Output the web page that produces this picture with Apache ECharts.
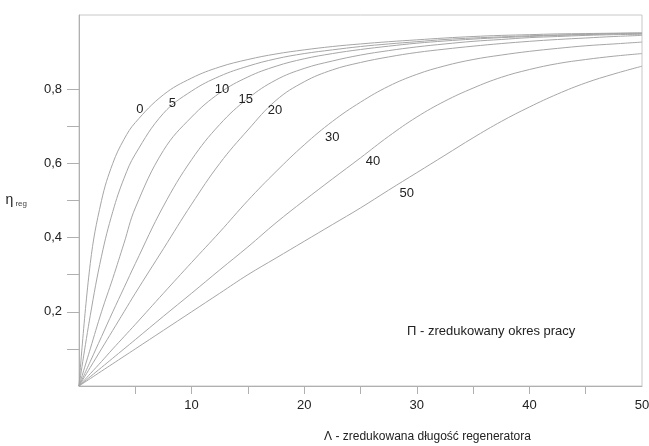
<!DOCTYPE html>
<html>
<head>
<meta charset="utf-8">
<script src="https://cdn.jsdelivr.net/npm/echarts@6/dist/echarts.min.js"></script>
<style>
html, body { margin: 0; padding: 0; background: #fff; }
#chart { width: 649px; height: 446px; }
</style>
</head>
<body>
<div id="chart"></div>
<script>
// zredukowana długość regeneratora (oś x)
const lambda = [0, 1, 2, 3, 4, 5, 7.5, 10, 12.5, 15, 17.5, 20, 22.5, 25, 27.5, 30, 32.5, 35, 37.5, 40, 42.5, 45, 47.5, 50];

// zredukowany okres pracy - jedna krzywa na wartość
const piValues = [0, 5, 10, 15, 20, 30, 40, 50];

const eta0 = [0, 0.33, 0.50, 0.60, 0.665, 0.71, 0.785, 0.83, 0.86, 0.88, 0.895, 0.906, 0.915, 0.922, 0.928, 0.933, 0.938, 0.942, 0.945, 0.947, 0.949, 0.95, 0.951, 0.952];
const eta5 = [0, 0.19, 0.35, 0.47, 0.56, 0.625, 0.735, 0.795, 0.835, 0.862, 0.882, 0.896, 0.906, 0.915, 0.922, 0.928, 0.934, 0.938, 0.941, 0.944, 0.946, 0.948, 0.95, 0.951];
const eta10 = [0, 0.10, 0.20, 0.29, 0.385, 0.48, 0.635, 0.725, 0.79, 0.833, 0.862, 0.882, 0.896, 0.907, 0.916, 0.924, 0.93, 0.935, 0.939, 0.942, 0.945, 0.947, 0.949, 0.95];
const eta15 = [0, 0.066, 0.133, 0.2, 0.265, 0.33, 0.485, 0.61, 0.705, 0.775, 0.825, 0.856, 0.876, 0.892, 0.904, 0.914, 0.922, 0.929, 0.934, 0.939, 0.942, 0.945, 0.947, 0.948];
const eta20 = [0, 0.05, 0.10, 0.15, 0.20, 0.25, 0.37, 0.49, 0.60, 0.69, 0.77, 0.82, 0.852, 0.872, 0.887, 0.899, 0.908, 0.916, 0.923, 0.929, 0.934, 0.938, 0.942, 0.945];
const eta30 = [0, 0.033, 0.066, 0.10, 0.133, 0.166, 0.25, 0.333, 0.415, 0.50, 0.578, 0.65, 0.713, 0.765, 0.808, 0.84, 0.863, 0.88, 0.892, 0.902, 0.91, 0.917, 0.922, 0.927];
const eta40 = [0, 0.025, 0.05, 0.075, 0.10, 0.125, 0.188, 0.25, 0.313, 0.375, 0.44, 0.50, 0.558, 0.615, 0.673, 0.725, 0.768, 0.803, 0.832, 0.853, 0.869, 0.88, 0.889, 0.896];
const eta50 = [0, 0.02, 0.04, 0.06, 0.08, 0.10, 0.15, 0.20, 0.25, 0.30, 0.345, 0.39, 0.435, 0.48, 0.528, 0.575, 0.622, 0.669, 0.713, 0.752, 0.787, 0.817, 0.841, 0.862];

const etaCurves = [eta0, eta5, eta10, eta15, eta20, eta30, eta40, eta50];

const xLabelValues = [10, 20, 30, 40, 50];
const xTickValues = [5, 10, 15, 20, 25, 30, 35, 40, 45];
const yLabelValues = [0.2, 0.4, 0.6, 0.8];
const yTickValues = [0.1, 0.2, 0.3, 0.4, 0.5, 0.6, 0.7, 0.8];

let chartShell = document.getElementById("chart");
let myChart = echarts.init(chartShell);

// miejsca opisów krzywych (w jednostkach osi)
let labelAt = [
    [5.4, 0.746],
    [8.3, 0.762],
    [12.7, 0.80],
    [14.8, 0.773],
    [17.4, 0.744],
    [22.5, 0.671],
    [26.1, 0.604],
    [29.1, 0.518],
];

const fontFamily = "'Liberation Sans', Arial, sans-serif";

let series = etaCurves.map(function (eta, i) {
    return {
        type: "line",
        name: "Π=" + piValues[i],
        smooth: 0.4,
        showSymbol: false,
        symbol: "none",
        lineStyle: { color: "#a6a6a6", width: 1 },
        data: lambda.map(function (l, k) {
            return [l, eta[k]];
        }),
        markPoint: {
            symbol: "circle",
            symbolSize: 1,
            itemStyle: { color: "rgba(0,0,0,0)" },
            label: {
                show: true,
                position: "inside",
                formatter: String(piValues[i]),
                color: "#222",
                fontSize: 13,
                fontFamily: fontFamily,
            },
            data: [{ coord: labelAt[i] }],
        },
    };
});

let option = {
    animation: false,
    backgroundColor: "#fff",
    grid: {
        left: 79,
        right: 7,
        top: 15,
        bottom: 60,
        outerBoundsMode: "none",
        show: true,
        borderColor: "#c8c8c8",
        borderWidth: 1,
    },
    xAxis: {
        type: "value",
        min: 0,
        max: 50,
        interval: 5,
        name: "Λ - zredukowana długość regeneratora",
        nameLocation: "middle",
        nameGap: 45,
        nameTextStyle: {
            color: "#222",
            fontSize: 12,
            fontFamily: fontFamily,
            padding: [0, 0, 0, 134],
        },
        axisLine: { lineStyle: { color: "#b0b0b0" } },
        axisTick: {
            show: true,
            length: 8,
            customValues: xTickValues,
            lineStyle: { color: "#b0b0b0" },
        },
        axisLabel: {
            customValues: xLabelValues,
            margin: 13,
            color: "#222",
            fontSize: 13,
            fontFamily: fontFamily,
        },
        splitLine: { show: false },
    },
    yAxis: {
        type: "value",
        min: 0,
        max: 1,
        interval: 0.1,
        name: "{a|η}{b| reg}",
        nameLocation: "middle",
        nameRotate: 0,
        nameGap: 52,
        nameTextStyle: {
            rich: {
                a: { fontSize: 14, color: "#222", fontFamily: fontFamily },
                b: { fontSize: 8, color: "#444", fontFamily: fontFamily, padding: [6, 0, 0, 0] },
            },
        },
        axisLine: { show: true, lineStyle: { color: "#b0b0b0" } },
        axisTick: {
            show: true,
            length: 12,
            customValues: yTickValues,
            lineStyle: { color: "#b0b0b0" },
        },
        axisLabel: {
            customValues: yLabelValues,
            margin: 17,
            color: "#222",
            fontSize: 13,
            fontFamily: fontFamily,
            formatter: function (v) {
                return v.toFixed(1).replace(".", ",");
            },
        },
        splitLine: { show: false },
    },
    graphic: [
        {
            type: "text",
            left: 407,
            top: 325,
            style: {
                text: "Π - zredukowany okres pracy",
                fill: "#222",
                fontSize: 13,
                fontFamily: fontFamily,
            },
        },
    ],
    series: series,
};

myChart.setOption(option);
</script>
</body>
</html>
